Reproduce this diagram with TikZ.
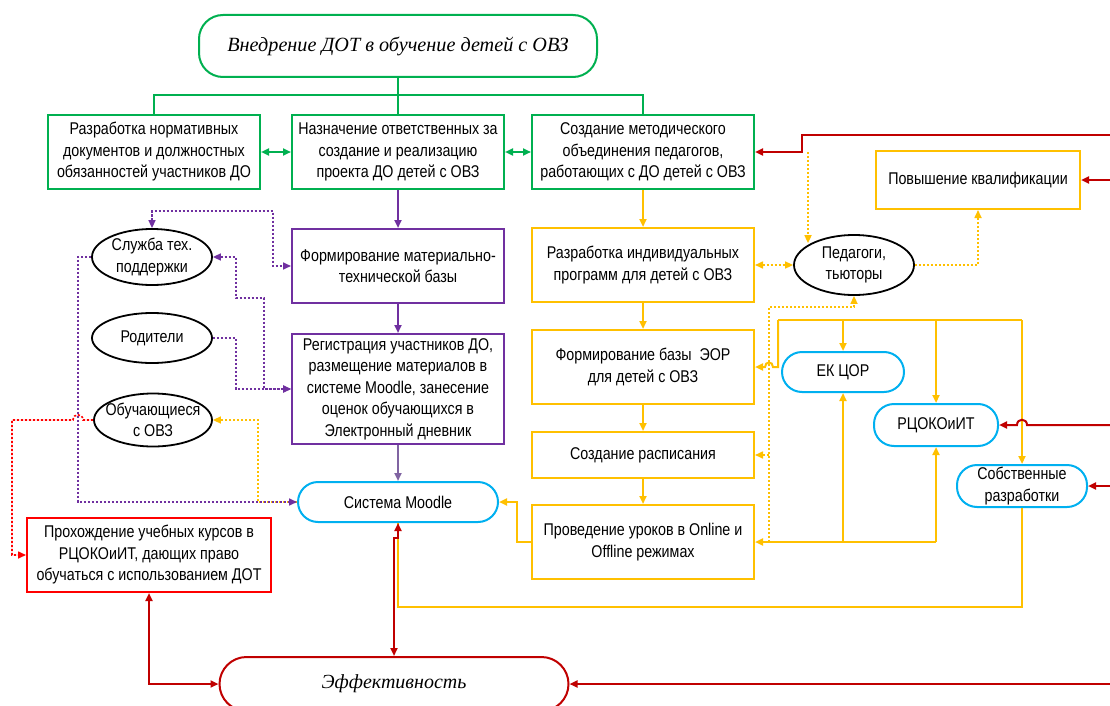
\documentclass[tikz,border=0pt]{standalone}
\usepackage{fontspec}
\setmainfont{Liberation Sans}[FakeStretch=0.84]
\newfontfamily\titlefont{Liberation Serif}
\usetikzlibrary{arrows.meta,shapes.geometric}
\definecolor{cgreen}{HTML}{00B050}
\definecolor{cpurple}{HTML}{7030A0}
\definecolor{cpurpleb}{HTML}{8064A2}
\definecolor{cyell}{HTML}{FFC000}
\definecolor{ccyan}{HTML}{00B0F0}
\definecolor{cdred}{HTML}{C00000}
\definecolor{cred}{HTML}{FF0000}
\begin{document}
\begin{tikzpicture}[x=1pt,y=-1pt,
  font=\fontsize{17}{21.5}\selectfont,
  every node/.style={inner sep=0pt, align=center},
  box/.style={draw, rectangle, line width=2pt},
  term/.style={draw=ccyan, line width=2pt, rounded corners=20pt},
  oval/.style={draw=black, ellipse, line width=1.8pt},
  tip/.style={-{Triangle[length=8pt,width=7pt]}},
  dbl/.style={{Triangle[length=8pt,width=7pt]}-{Triangle[length=8pt,width=7pt]}},
  gline/.style={draw=cgreen, line width=2pt},
  pline/.style={draw=cpurple, line width=2pt},
  yline/.style={draw=cyell, line width=2pt},
  rline/.style={draw=cdred, line width=2pt},
  pdot/.style={draw=cpurple, line width=1.6pt, dash pattern=on 2.2pt off 1.8pt},
  ydot/.style={draw=cyell, line width=1.6pt, dash pattern=on 2.2pt off 1.8pt},
  rdot/.style={draw=cred, line width=1.6pt, dash pattern=on 2.2pt off 1.8pt},
]
\useasboundingbox (0,0) rectangle (1110,706);
\fill[white] (0,0) rectangle (1110,706);

% ---------- nodes ----------
\node[draw=cgreen, line width=2pt, rounded corners=24pt, minimum width=398pt, minimum height=62pt,
  font=\fontsize{20.2}{24}\selectfont\titlefont\itshape] (T) at (398,46) {Внедрение ДОТ в обучение детей с ОВЗ};

\node[box, draw=cgreen, minimum width=212pt, minimum height=74pt] (A) at (154,152)
  {Разработка нормативных\\документов и должностных\\обязанностей участников ДО};
\node[box, draw=cgreen, minimum width=212pt, minimum height=74pt] (B) at (398,152)
  {Назначение ответственных за\\создание и реализацию\\проекта ДО детей с ОВЗ};
\node[box, draw=cgreen, minimum width=222pt, minimum height=74pt] (C) at (643,152)
  {Создание методического\\объединения педагогов,\\работающих с ДО детей с ОВЗ};

\node[box, draw=cpurple, minimum width=212pt, minimum height=74pt] (D) at (398,266)
  {Формирование материально-\\технической базы};
\node[box, draw=cpurple, minimum width=212pt, minimum height=110pt] (E) at (398,389)
  {Регистрация участников ДО,\\размещение материалов в\\системе Moodle, занесение\\оценок обучающихся в\\Электронный дневник};
\node[term, minimum width=200pt, minimum height=40pt] (M) at (398,502) {Система Moodle};

\node[box, draw=cyell, minimum width=222pt, minimum height=74pt] (G1) at (643,265)
  {Разработка индивидуальных\\программ для детей с ОВЗ};
\node[box, draw=cyell, minimum width=222pt, minimum height=74pt] (G2) at (643,367)
  {Формирование базы\ \ ЭОР\\для детей с ОВЗ};
\node[box, draw=cyell, minimum width=222pt, minimum height=46pt] (G3) at (643,455)
  {Создание расписания};
\node[box, draw=cyell, minimum width=222pt, minimum height=74pt] (H) at (643,542)
  {Проведение уроков в Online и\\Offline режимах};

\node[oval, minimum width=120pt, minimum height=60pt] (P) at (854,265) {Педагоги,\\тьюторы};
\node[box, draw=cyell, minimum width=204pt, minimum height=58pt] (Q) at (978,180) {Повышение квалификации};
\node[term, minimum width=122pt, minimum height=40pt] (K) at (843,372) {ЕК ЦОР};
\node[term, minimum width=124pt, minimum height=42pt] (R) at (936,425) {РЦОКОиИТ};
\node[term, minimum width=130pt, minimum height=42pt] (S) at (1022,486) {Собственные\\разработки};

\node[oval, minimum width=120pt, minimum height=56pt] (O1) at (152,257) {Служба тех.\\поддержки};
\node[oval, minimum width=120pt, minimum height=50pt] (O2) at (152,338) {Родители};
\node[oval, minimum width=118pt, minimum height=53pt] (O3) at (153,420) {\makebox[70pt]{Обучающиеся}\\с ОВЗ};

\node[box, draw=cred, minimum width=244pt, minimum height=74pt] (F) at (149,555)
  {Прохождение учебных курсов в\\РЦОКОиИТ, дающих право\\обучаться с использованием ДОТ};
\node[draw=cdred, line width=2pt, rounded corners=27pt, minimum width=349pt, minimum height=54pt,
  font=\fontsize{20}{24}\selectfont\titlefont\itshape] (Z) at (394,684) {Эффективность};

% free ends at the right edge
\coordinate (r1) at (1110,135);
\coordinate (r2) at (1110,180);
\coordinate (r3) at (1110,425);
\coordinate (r4) at (1110,486);
\coordinate (r5) at (1110,684);

% ---------- green ----------
\draw[gline] (T.south) -- (B.north);
\draw[gline] (A.north) |- (398,95) -| (C.north);
\draw[gline, dbl] (A.east) -- (B.west);
\draw[gline, dbl] (B.east) -- (C.west);

% ---------- purple ----------
\draw[pline, tip] (B.south) -- (D.north);
\draw[pline, tip] (D.south) -- (E.north);
\draw[draw=cpurpleb, line width=2pt, tip] (E.south) -- (M.north);

% ---------- left dotted ----------
\draw[ydot, tip] (M.west) -- (258,502) |- (O3.east);
\draw[pdot, dbl] (O1.north) |- (273,211) |- (D.west);
\draw[pdot, dbl] (O1.east) -- (236,257) -- (236,298) -- (264,298) |- (E.west);
\draw[pdot, tip] (O2.east) -- (236,338) |- (E.west);
\draw[pdot, tip] (O1.west) -- (78,257) |- (M.west);
\draw[rdot, tip] (O3.west) -- (83,420) .. controls (83,413) and (73,413) .. (73,420) -- (12,420) |- (F.west);

% ---------- yellow solid ----------
\draw[yline, tip] (C.south) -- (G1.north);
\draw[yline, tip] (G1.south) -- (G2.north);
\draw[yline, tip] (G2.south) -- (G3.north);
\draw[yline, tip] (G3.south) -- (H.north);
\draw[yline, tip] (H.west) -- (517,542) |- (M.east);
\draw[yline] (S.south) |- (398,607) -- (M.south);

\draw[yline] (778,320) -- (1022,320);
\draw[yline, tip] (778,320) -- (778,367) -- (773,367) .. controls (773,361) and (765,361) .. (765,367) -- (G2.east);
\draw[yline, tip] (843,320) -- (K.north);
\draw[yline, tip] (936,320) -- (R.north);
\draw[yline, tip] (1022,320) -- (S.north);

\draw[yline, tip] (R.south |- H.east) -- (H.east);
\draw[yline, tip] (R.south |- H.east) -- (R.south);
\draw[yline, tip] (K.south |- H.east) -- (K.south);

% ---------- yellow dotted ----------
\draw[ydot, dbl] (G1.east) -- (P.west);
\draw[ydot, tip] (P.east) -| (Q.south);
\coordinate (pd) at (808,152);
\draw[ydot, tip] (pd) -- (pd |- P.north west);
\draw[ydot, tip] (769,542) -- (769,307) -| (P.south);
\draw[ydot, tip] (769,455) -- (G3.east);

% ---------- red ----------
\draw[rline, dbl] (F.south) |- (Z.west);
\draw[rline, dbl] (Z.north) -- (394,538) -- (398,538) -- (M.south);
\draw[rline, tip] (r1) -- (802,135) |- (C.east);
\draw[rline, tip] (r2) -- (Q.east);
\draw[rline, tip] (r3) -- (1027,425) .. controls (1027,418) and (1017,418) .. (1017,425) -- (R.east);
\draw[rline, tip] (r4) -- (S.east);
\draw[rline, tip] (r5) -- (Z.east);
\end{tikzpicture}
\end{document}
